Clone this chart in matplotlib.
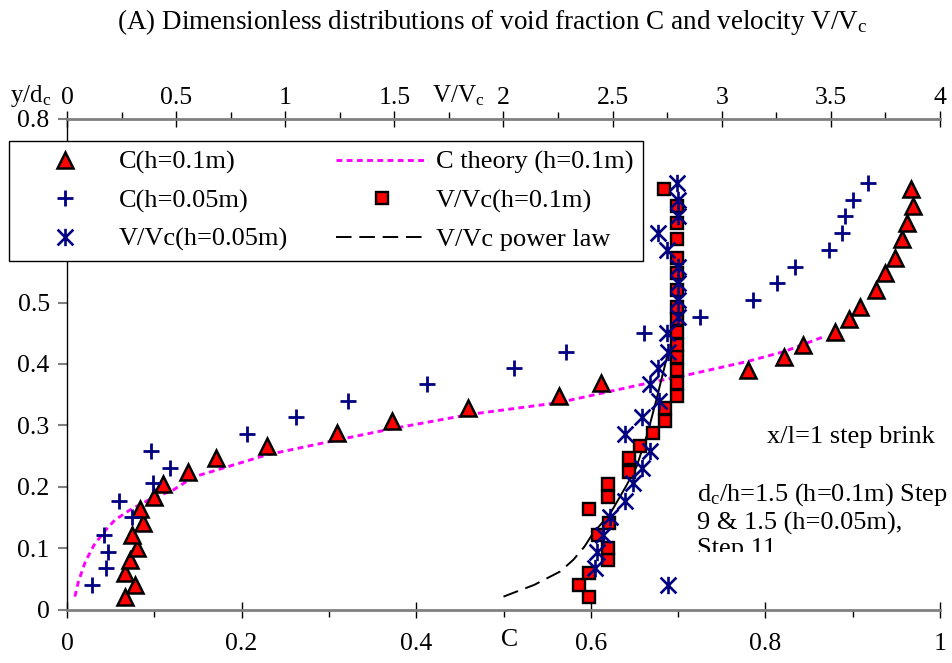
import matplotlib
matplotlib.use('Agg')
import matplotlib.pyplot as plt
from matplotlib.path import Path
from matplotlib.patches import Rectangle
from matplotlib.ticker import MultipleLocator, FuncFormatter

plt.rcParams['font.family'] = ['Liberation Serif', 'DejaVu Serif']
plt.rcParams['mathtext.fontset'] = 'custom'
plt.rcParams['mathtext.rm'] = 'Liberation Serif'
plt.rcParams['mathtext.it'] = 'Liberation Serif:italic'

# ---------------- data ----------------
# C (h=0.1m) and V/Vc (h=0.1m) share the same y/dc positions
y_h01 = [0.020, 0.040, 0.060, 0.081, 0.101, 0.121, 0.141, 0.163, 0.183, 0.204,
         0.224, 0.247, 0.266, 0.287, 0.307, 0.328, 0.348, 0.369, 0.391, 0.411,
         0.431, 0.452, 0.474, 0.493, 0.520, 0.548, 0.573, 0.603, 0.629, 0.657, 0.685]
c_h01 = [0.067, 0.078, 0.066, 0.072, 0.080, 0.074, 0.087, 0.084, 0.100, 0.110,
         0.139, 0.171, 0.229, 0.309, 0.372, 0.459, 0.564, 0.612, 0.780, 0.821,
         0.843, 0.880, 0.896, 0.908, 0.927, 0.937, 0.948, 0.956, 0.962, 0.969, 0.967]
v_h01 = [2.393, 2.348, 2.393, 2.480, 2.480, 2.434, 2.485, 2.393, 2.480, 2.480,
         2.576, 2.576, 2.625, 2.684, 2.740, 2.740, 2.795, 2.795, 2.795, 2.795,
         2.795, 2.795, 2.795, 2.795, 2.795, 2.795, 2.795, 2.795, 2.795, 2.795, 2.735]

# C (h=0.05m) and V/Vc (h=0.05m)
y_h005 = [0.040, 0.068, 0.094, 0.121, 0.151, 0.177, 0.206, 0.231, 0.258, 0.286,
          0.313, 0.339, 0.367, 0.394, 0.420, 0.450, 0.476, 0.504, 0.532, 0.558,
          0.585, 0.613, 0.641, 0.667, 0.695]
c_h005 = [0.029, 0.045, 0.047, 0.042, 0.075, 0.059, 0.098, 0.118, 0.096, 0.206,
          0.262, 0.322, 0.412, 0.512, 0.572, 0.661, 0.725, 0.786, 0.813, 0.834,
          0.873, 0.888, 0.891, 0.900, 0.918]
v_h005 = [2.755, 2.419, 2.427, 2.457, 2.488, 2.557, 2.595, 2.633, 2.671, 2.557,
          2.633, 2.714, 2.671, 2.709, 2.755, 2.748, 2.798, 2.798, 2.798, 2.798,
          2.748, 2.710, 2.798, 2.798, 2.794]

# C theory (h=0.1m)
y_theory = [0.021, 0.045, 0.078, 0.105, 0.129, 0.146, 0.162, 0.178, 0.195, 0.216,
            0.227, 0.252, 0.276, 0.295, 0.318, 0.337, 0.366, 0.382, 0.404, 0.420, 0.444]
c_theory = [0.009, 0.013, 0.021, 0.031, 0.044, 0.055, 0.072, 0.093, 0.122, 0.145,
            0.171, 0.229, 0.309, 0.374, 0.462, 0.563, 0.656, 0.710, 0.779, 0.821, 0.866]

# V/Vc power law
y_power = [0.021, 0.040, 0.062, 0.081, 0.102, 0.124, 0.157, 0.200, 0.233, 0.287, 0.341, 0.420]
v_power = [2.00, 2.14, 2.26, 2.32, 2.37, 2.41, 2.49, 2.56, 2.61, 2.66, 2.70, 2.755]

labels = ['C(h=0.1m)', 'C(h=0.05m)', 'V/Vc(h=0.05m)',
          'C theory (h=0.1m)', 'V/Vc(h=0.1m)', 'V/Vc power law']

# ---------------- figure ----------------
W, H = 953, 663
fig = plt.figure(figsize=(W / 100, H / 100), dpi=100)
fig.patch.set_facecolor('white')

def fx(px):
    return px / W

def fy(py):
    return 1 - py / H

ax = fig.add_axes([fx(67), fy(609.5), fx(940) - fx(67), fy(118.5) - fy(609.5)])
ax.set_xlim(0, 1)
ax.set_ylim(0, 0.8)
ax.patch.set_alpha(0)

red = '#FF0000'
navy = '#000080'
magenta = '#FF00FF'

l_theory, = ax.plot(c_theory, y_theory, color=magenta, lw=2.1,
                    linestyle=(0, (2.0, 1.5)), zorder=2)
l_tri, = ax.plot(c_h01, y_h01, linestyle='none', marker='^', ms=11,
                 mfc=red, mec='black', mew=1.8, zorder=3)
l_plus, = ax.plot(c_h005, y_h005, linestyle='none', marker='+', ms=12,
                  mec=navy, mew=2.0, zorder=4)

ax2 = ax.twiny()
ax2.set_xlim(0, 4)
ax2.set_ylim(0, 0.8)

star = Path([(-1, -1), (1, 1), (-1, 1), (1, -1), (0, -1.1), (0, 1.1)],
            [Path.MOVETO, Path.LINETO, Path.MOVETO, Path.LINETO, Path.MOVETO, Path.LINETO])

l_power, = ax2.plot(v_power[:5], y_power[:5], color='black', lw=1.4,
                    linestyle=(0, (8, 4)), zorder=2)
ax2.plot(v_power[4:], y_power[4:], color='black', lw=1.4, linestyle='-', zorder=2)
l_sq, = ax2.plot(v_h01, y_h01, linestyle='none', marker='s', ms=9.3,
                 mfc=red, mec='black', mew=1.7, zorder=3)
l_star, = ax2.plot(v_h005, y_h005, linestyle='none', marker=star, ms=12.5,
                   mfc='none', mec=navy, mew=1.9, zorder=4)

# ---------------- axes styling ----------------
fmt = FuncFormatter(lambda v, p: '%g' % v)
for s in ['top', 'right']:
    ax.spines[s].set_visible(False)
ax.spines['bottom'].set_color('#808080')
ax.spines['bottom'].set_linewidth(2)
ax.spines['left'].set_color('black')
ax.spines['left'].set_linewidth(1)
for s in ['left', 'right', 'bottom']:
    ax2.spines[s].set_visible(False)
ax2.spines['top'].set_color('#808080')
ax2.spines['top'].set_linewidth(2)

ax.xaxis.set_major_locator(MultipleLocator(0.2))
ax.xaxis.set_minor_locator(MultipleLocator(0.1))
ax.xaxis.set_major_formatter(fmt)
ax.yaxis.set_major_locator(MultipleLocator(0.1))
ax.yaxis.set_major_formatter(fmt)
ax.tick_params(axis='x', which='major', direction='inout', length=12, width=1,
               color='black', pad=11, labelsize=18.5)
ax.tick_params(axis='x', which='minor', direction='out', length=5, width=1, color='black')
ax.tick_params(axis='y', which='major', direction='out', length=6.5, width=1.5,
               color='#808080', pad=6, labelsize=18.5)

ax2.xaxis.set_major_locator(MultipleLocator(0.5))
ax2.xaxis.set_minor_locator(MultipleLocator(0.25))
ax2.xaxis.set_major_formatter(fmt)
ax2.tick_params(axis='x', which='major', direction='inout', length=12, width=1,
                color='black', pad=1, labelsize=18.5)
ax2.tick_params(axis='x', which='minor', direction='out', length=5, width=1, color='black')
ax2.yaxis.set_visible(False)

# ---------------- texts ----------------
fig.text(fx(492), fy(22), '(A) Dimensionless distributions of void fraction C and velocity V/V$_\\mathregular{c}$',
         ha='center', va='center', fontsize=19.5)
fig.text(fx(10), fy(96), 'y/d$_\\mathregular{c}$', ha='left', va='center', fontsize=18)
fig.text(fx(458), fy(96), 'V/V$_\\mathregular{c}$', ha='center', va='center', fontsize=18)
fig.text(fx(510), fy(640), 'C', ha='center', va='center', fontsize=18.5)

ax2.text(3.975, 0.281, 'x/l=1 step brink', ha='right', va='center', fontsize=19)
ax2.text(2.887, 0.209,
         'd$_\\mathregular{c}$/h=1.5 (h=0.1m) Step\n9 & 1.5 (h=0.05m),\nStep 11',
         ha='left', va='top', fontsize=19, linespacing=1.2, zorder=3)
# the text box of the original is cut off through its third line
ax2.add_patch(Rectangle((2.86, 0.05), 1.12, 0.043, facecolor='white',
                        edgecolor='none', zorder=3.5))

# ---------------- legend ----------------
leg = ax2.legend([l_tri, l_plus, l_star, l_theory, l_sq, l_power], labels,
                 ncol=2, loc='upper left', bbox_to_anchor=(fx(9), fy(141)),
                 bbox_transform=fig.transFigure, borderaxespad=0,
                 fontsize=19, frameon=True, fancybox=False, framealpha=1,
                 edgecolor='black', handlelength=3.5, handletextpad=0.3,
                 columnspacing=1.8, labelspacing=0.55, borderpad=0.36)
leg.get_frame().set_linewidth(1)
leg.set_zorder(10)

fig.savefig('out.png', dpi=100, facecolor='white')
